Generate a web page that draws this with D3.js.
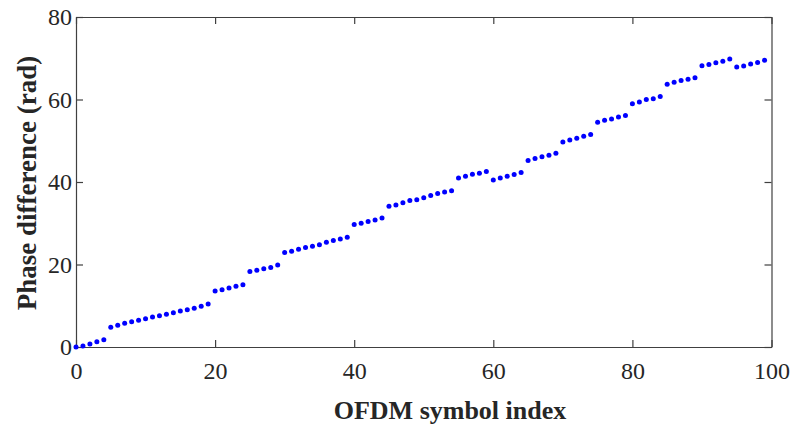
<!DOCTYPE html>
<html>
<head>
<meta charset="utf-8">
<script src="https://cdn.jsdelivr.net/npm/d3@7/dist/d3.min.js"></script>
<style>
  body { margin: 0; background: #fff; }
  .tick text { font-family: "Liberation Serif", "Times New Roman", serif; font-size: 24px; fill: #262626; }
  .axis-label { font-family: "Liberation Serif", "Times New Roman", serif; font-weight: bold; fill: #262626; }
</style>
</head>
<body>
<div class="visual"></div>
<script>
const [width, height] = [795, 426];
const margin = { top: 17, right: 23.5, bottom: 79, left: 76 };

// phase difference per OFDM symbol (index 0..99)
const phase = [
  0.0, 0.24, 0.73, 1.3, 1.78,
  4.8, 5.26, 5.74, 6.15, 6.5, 6.87, 7.28, 7.6, 7.92, 8.32, 8.73, 9.05, 9.4, 9.86, 10.4,
  13.6, 13.9, 14.3, 14.7, 15.1,
  18.3, 18.6, 19.0, 19.3, 19.85,
  22.9, 23.2, 23.7, 24.1, 24.4, 24.8, 25.4, 25.8, 26.2, 26.6,
  29.7, 30.0, 30.4, 30.8, 31.3,
  34.1, 34.4, 35.0, 35.5, 35.7, 36.2, 36.7, 37.2, 37.6, 37.9,
  41.0, 41.4, 41.85, 42.15, 42.55,
  40.5, 41.0, 41.4, 41.8, 42.3,
  45.2, 45.7, 46.1, 46.5, 47.0,
  49.7, 50.2, 50.6, 51.1, 51.5,
  54.5, 55.0, 55.3, 55.75, 56.1,
  59.0, 59.4, 60.0, 60.2, 60.7,
  63.7, 64.2, 64.6, 64.9, 65.3,
  68.2, 68.5, 68.9, 69.3, 69.8,
  67.9, 68.1, 68.6, 69.0, 69.5,
];
const xTicks = [0, 20, 40, 60, 80, 100];
const yTicks = [0, 20, 40, 60, 80];

const svg = d3.select('.visual')
  .append('svg')
  .attr('width', width)
  .attr('height', height);

const x = d3.scaleLinear().domain([0, 100]).range([margin.left, width - margin.right]);
const y = d3.scaleLinear().domain([0, 80]).range([height - margin.bottom, margin.top]);

const axisColor = '#404040';
const styleAxis = (g) => {
  g.selectAll('.domain').attr('stroke', axisColor).attr('stroke-width', 1.2);
  g.selectAll('.tick line').attr('stroke', axisColor).attr('stroke-width', 1.2);
};

// bottom and left with labels, ticks pointing in
svg.append('g')
  .attr('transform', `translate(0, ${y(0)})`)
  .call(d3.axisBottom(x).tickValues(xTicks).tickSizeInner(-7).tickSizeOuter(0).tickPadding(15))
  .call(styleAxis);

svg.append('g')
  .attr('transform', `translate(${x(0)}, 0)`)
  .call(d3.axisLeft(y).tickValues(yTicks).tickSizeInner(-7).tickSizeOuter(0).tickPadding(4))
  .call(styleAxis);

// top and right box lines
svg.append('g')
  .attr('transform', `translate(0, ${y(80)})`)
  .call(d3.axisTop(x).tickValues(xTicks).tickSizeInner(-7).tickSizeOuter(0).tickFormat(''))
  .call(styleAxis);

svg.append('g')
  .attr('transform', `translate(${x(100)}, 0)`)
  .call(d3.axisRight(y).tickValues(yTicks).tickSizeInner(-7).tickSizeOuter(0).tickFormat(''))
  .call(styleAxis);

svg.selectAll('.tick text').attr('font-family', null).attr('font-size', null);

svg.append('g')
  .selectAll('circle')
  .data(phase)
  .enter()
  .append('circle')
  .attr('cx', (_d, i) => x(i))
  .attr('cy', (d) => y(d))
  .attr('r', 2.5)
  .attr('fill', '#0000ff');

svg.append('text')
  .attr('class', 'axis-label')
  .attr('x', 450)
  .attr('y', 419)
  .attr('font-size', 26)
  .attr('text-anchor', 'middle')
  .text('OFDM symbol index');

svg.append('text')
  .attr('class', 'axis-label')
  .attr('transform', `translate(36, 183) rotate(-90)`)
  .attr('font-size', 27)
  .attr('text-anchor', 'middle')
  .text('Phase difference (rad)');
</script>
</body>
</html>
